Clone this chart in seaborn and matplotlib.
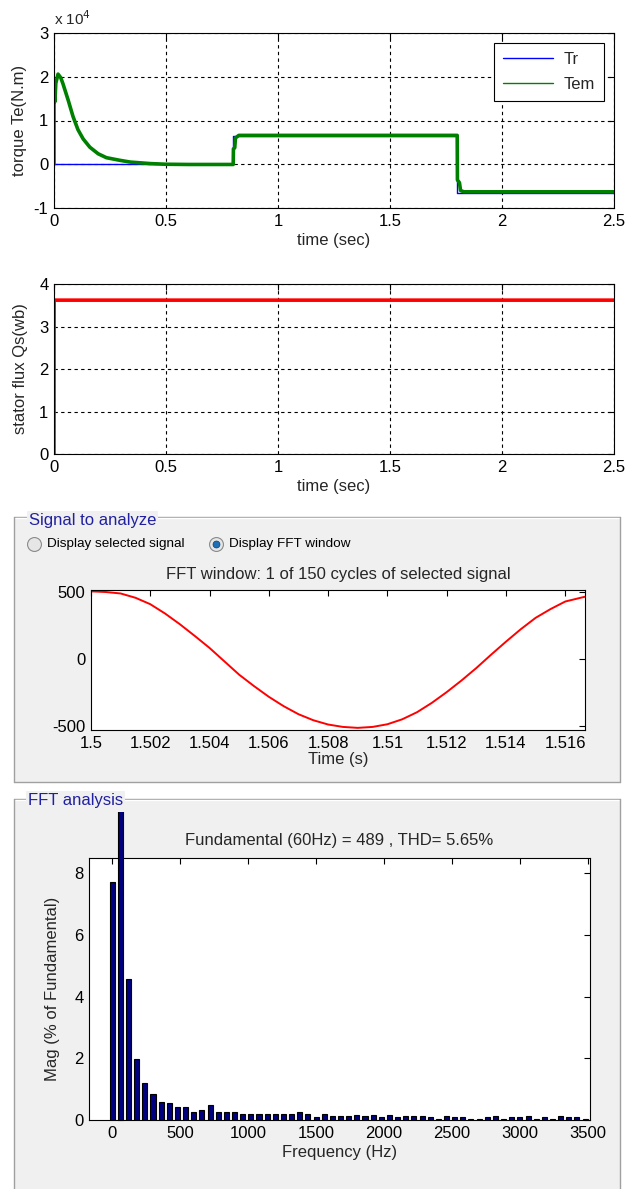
import numpy as np
import pandas as pd
import matplotlib
matplotlib.use("Agg")
import matplotlib.pyplot as plt
import seaborn as sns
from matplotlib.lines import Line2D
from matplotlib.patches import Rectangle
from matplotlib.ticker import FuncFormatter
from matplotlib.transforms import Bbox, TransformedBbox

# ---- data ----
# torque (N.m)
tem_t = [0.0, 0.0, 0.004, 0.008, 0.018, 0.03, 0.04, 0.063, 0.085, 0.107, 0.13, 0.16, 0.197,
         0.234, 0.294, 0.34, 0.43, 0.5, 0.6, 0.7, 0.8, 0.801, 0.807, 0.81, 0.825, 1.0, 1.5,
         1.8, 1.801, 1.81, 1.815, 1.83, 2.0, 2.5]
tem_v = [0, 16000, 14300, 18500, 20600, 19800, 18400, 14700, 10900, 7900, 5800, 3900, 2400,
         1500, 900, 500, 150, 0, -50, -50, -50, 3500, 3800, 6000, 6600, 6600, 6600,
         6600, -3600, -4200, -6000, -6300, -6300, -6300]
tr_t = [0.0, 0.8, 0.8, 1.8, 1.8, 2.5]
tr_v = [0, 0, 6500, 6500, -6500, -6500]

# stator flux (Wb)
flux_t = [0.0, 0.0005, 2.5]
flux_v = [0.0, 3.62, 3.62]

# FFT window signal
sig_t = [1.5, 1.5005, 1.501, 1.5015, 1.502, 1.5025, 1.503, 1.5035, 1.504, 1.5045, 1.505,
         1.5055, 1.506, 1.5065, 1.507, 1.5075, 1.508, 1.5085, 1.509, 1.5095, 1.51, 1.5105,
         1.511, 1.5115, 1.512, 1.5125, 1.513, 1.5135, 1.514, 1.5145, 1.515, 1.5155, 1.516,
         1.51667]
sig_v = [508, 503, 492, 460, 412, 342, 262, 175, 85, -15, -115, -200, -280, -350, -410,
         -455, -487, -505, -512, -505, -485, -448, -395, -325, -245, -158, -65, 35, 132,
         225, 310, 375, 432, 468]

# FFT spectrum (% of fundamental)
freq_hz = [0, 60, 120, 180, 240, 300, 360, 420, 480, 540, 600, 660, 720, 780, 840, 900,
           960, 1020, 1080, 1140, 1200, 1260, 1320, 1380, 1440, 1500, 1560, 1620, 1680,
           1740, 1800, 1860, 1920, 1980, 2040, 2100, 2160, 2220, 2280, 2340, 2400, 2460,
           2520, 2580, 2640, 2700, 2760, 2820, 2880, 2940, 3000, 3060, 3120, 3180, 3240,
           3300, 3360, 3420, 3480]
mag_pct = [7.72, 100, 4.58, 1.99, 1.20, 0.83, 0.58, 0.54, 0.42, 0.42, 0.25, 0.33, 0.47,
           0.25, 0.25, 0.25, 0.18, 0.21, 0.21, 0.18, 0.21, 0.18, 0.18, 0.26, 0.18, 0.10,
           0.18, 0.14, 0.13, 0.13, 0.17, 0.13, 0.17, 0.09, 0.17, 0.09, 0.13, 0.13, 0.13,
           0.09, 0.04, 0.13, 0.09, 0.09, 0.04, 0.04, 0.09, 0.13, 0.04, 0.09, 0.09, 0.13,
           0.04, 0.09, 0.04, 0.13, 0.09, 0.09, 0.04]

sns.set_theme(style="white")
plt.rcParams['font.family'] = ['Liberation Sans', 'DejaVu Sans']
plt.rcParams['font.size'] = 12
plt.rcParams['axes.unicode_minus'] = False

W, H = 633, 1189
fig = plt.figure(figsize=(W / 100, H / 100), dpi=100)
fig.set_facecolor('white')

FS = 12


def box(l, t, r, b):
    return [l / W, 1 - b / H, (r - l) / W, (b - t) / H]


def fx(x):
    return x / W


def fy(y):
    return 1 - y / H


grid_kw = dict(color='black', linestyle=(0, (3, 3)), linewidth=0.8)


def matlab_axes(ax):
    for s in ax.spines.values():
        s.set_color('black')
        s.set_linewidth(0.8)
    ax.tick_params(direction='in', top=True, right=True, length=4, width=0.8,
                   labelsize=FS, colors='black', pad=4)
    ax.set_facecolor('white')


# ---- gray GUI panels (behind the axes) ----
gray = '#f0f0f0'
fig.patches.append(Rectangle((fx(14), fy(782)), fx(620) - fx(14), fy(517) - fy(782),
                             transform=fig.transFigure, facecolor=gray, edgecolor='none', zorder=-5))
fig.patches.append(Rectangle((fx(14), fy(1189)), fx(620) - fx(14), fy(799) - fy(1189),
                             transform=fig.transFigure, facecolor=gray, edgecolor='none', zorder=-5))
for (top, bot) in [(517, 782), (799, 1190)]:
    for xs, ys, c in [([14, 620], [top, top], '#a0a0a0'), ([15, 619], [top + 1, top + 1], 'white'),
                      ([14, 14], [top, bot], '#a0a0a0'), ([620, 620], [top, bot], '#a0a0a0'),
                      ([14, 620], [bot, bot], '#a0a0a0')]:
        fig.add_artist(Line2D([fx(v) for v in xs], [fy(v) for v in ys], color=c,
                              linewidth=1.0, transform=fig.transFigure, zorder=1))

label_box = dict(facecolor=gray, edgecolor='none', pad=1.5)
fig.text(fx(29), fy(520), 'Signal to analyze', color='#2020a0', fontsize=12,
         va='center', ha='left', bbox=label_box, zorder=3)
fig.text(fx(28), fy(800), 'FFT analysis', color='#2020a0', fontsize=12,
         va='center', ha='left', bbox=label_box, zorder=3)

# radio buttons
for cx, txt, sel in [(34, 'Display selected signal', False), (216, 'Display FFT window', True)]:
    fig.add_artist(Line2D([fx(cx)], [fy(544)], marker='o', markersize=10,
                          markerfacecolor='#e6e6e6', markeredgecolor='#8a8a8a',
                          markeredgewidth=0.8, transform=fig.transFigure, zorder=3))
    if sel:
        fig.add_artist(Line2D([fx(cx)], [fy(544)], marker='o', markersize=5,
                              markerfacecolor='#1f6fb5', markeredgecolor='#0b3d6e',
                              markeredgewidth=0.5, transform=fig.transFigure, zorder=4))
    fig.text(fx(cx + 13), fy(544), txt, fontsize=9.7, va='center', ha='left', color='black')

# ---- torque ----
ax1 = fig.add_axes(box(54, 33, 614, 208))
df_tr = pd.DataFrame({'t': tr_t, 'v': tr_v})
df_tem = pd.DataFrame({'t': tem_t, 'v': tem_v})
sns.lineplot(data=df_tr, x='t', y='v', sort=False, estimator=None, color='#0000ff',
             linewidth=1.0, label='Tr', ax=ax1)
sns.lineplot(data=df_tem, x='t', y='v', sort=False, estimator=None, color='#008000',
             linewidth=2.6, label='Tem', ax=ax1)
ax1.set_xlim(0, 2.5)
ax1.set_ylim(-10000, 30000)
ax1.set_yticks([-10000, 0, 10000, 20000, 30000])
ax1.yaxis.set_major_formatter(FuncFormatter(lambda v, p: '%g' % (v / 1e4)))
ax1.set_xticks([0, 0.5, 1, 1.5, 2, 2.5])
ax1.xaxis.set_major_formatter(FuncFormatter(lambda v, p: '%g' % v))
ax1.grid(True, **grid_kw)
matlab_axes(ax1)
ax1.set_xlabel('time (sec)', fontsize=FS, labelpad=3)
ax1.set_ylabel('torque Te(N.m)', fontsize=FS, labelpad=5)
ax1.text(0.0, 1.03, r'x 10$^{4}$', transform=ax1.transAxes, fontsize=11, ha='left', va='bottom')
leg = ax1.legend(loc='upper right', fontsize=FS, handlelength=3.0, frameon=True,
                 fancybox=False, framealpha=1, borderaxespad=0.6, borderpad=0.55,
                 labelspacing=0.6, handletextpad=0.6)
leg.get_frame().set_edgecolor('black')
leg.get_frame().set_linewidth(0.8)
leg.get_frame().set_facecolor('white')
for h in leg.get_lines():
    h.set_linewidth(1.0)

# ---- flux ----
ax2 = fig.add_axes(box(54, 284, 614, 454))
df_flux = pd.DataFrame({'t': flux_t, 'v': flux_v})
sns.lineplot(data=df_flux, x='t', y='v', sort=False, estimator=None, color='#ff0000',
             linewidth=2.6, ax=ax2)
ax2.set_xlim(0, 2.5)
ax2.set_ylim(0, 4)
ax2.set_yticks([0, 1, 2, 3, 4])
ax2.set_xticks([0, 0.5, 1, 1.5, 2, 2.5])
ax2.xaxis.set_major_formatter(FuncFormatter(lambda v, p: '%g' % v))
ax2.grid(True, **grid_kw)
matlab_axes(ax2)
ax2.set_xlabel('time (sec)', fontsize=FS, labelpad=3)
ax2.set_ylabel('stator flux Qs(wb)', fontsize=FS, labelpad=8)

# ---- FFT window signal ----
ax3 = fig.add_axes(box(91, 590, 585, 730))
df_sig = pd.DataFrame({'t': sig_t, 'v': sig_v})
sns.lineplot(data=df_sig, x='t', y='v', sort=False, estimator=None, color='#ff0000',
             linewidth=1.4, ax=ax3)
ax3.set_xlim(1.5, 1.5 + 1 / 60)
ax3.set_ylim(-528, 518)
ax3.set_yticks([-500, 0, 500])
ax3.set_xticks([1.5, 1.502, 1.504, 1.506, 1.508, 1.51, 1.512, 1.514, 1.516])
ax3.xaxis.set_major_formatter(FuncFormatter(lambda v, p: '%g' % round(v, 4)))
matlab_axes(ax3)
ax3.set_xlabel('Time (s)', fontsize=FS, labelpad=1)
ax3.set_ylabel('')
ax3.set_title('FFT window: 1 of 150 cycles of selected signal', fontsize=FS, pad=8)

# ---- FFT spectrum ----
ax4 = fig.add_axes(box(89, 858, 590, 1120))
sns.barplot(x=freq_hz, y=mag_pct, native_scale=True, width=0.62, color='#000080',
            saturation=1, edgecolor='black', linewidth=0.8, errorbar=None, ax=ax4)
ax4.set_xlim(-171, 3516)
ax4.set_ylim(0, 8.49)
ax4.set_yticks([0, 2, 4, 6, 8])
ax4.set_xticks([0, 500, 1000, 1500, 2000, 2500, 3000, 3500])
matlab_axes(ax4)
ax4.set_xlabel('Frequency (Hz)', fontsize=FS, labelpad=3)
ax4.set_ylabel('Mag (% of Fundamental)', fontsize=FS, labelpad=10)
ax4.set_title('Fundamental (60Hz) = 489 , THD= 5.65%', fontsize=FS, pad=9)

# fundamental bar runs past the axes, cut at the panel edge
clip = TransformedBbox(Bbox.from_extents(0, 0, 1, fy(812)), fig.transFigure)
for p in ax4.patches:
    if abs(p.get_x() + p.get_width() / 2 - 60) < 5:
        p.set_clip_path(None)
        p.set_clip_box(clip)
        p.set_zorder(5)

fig.savefig('out.png', dpi=100)
